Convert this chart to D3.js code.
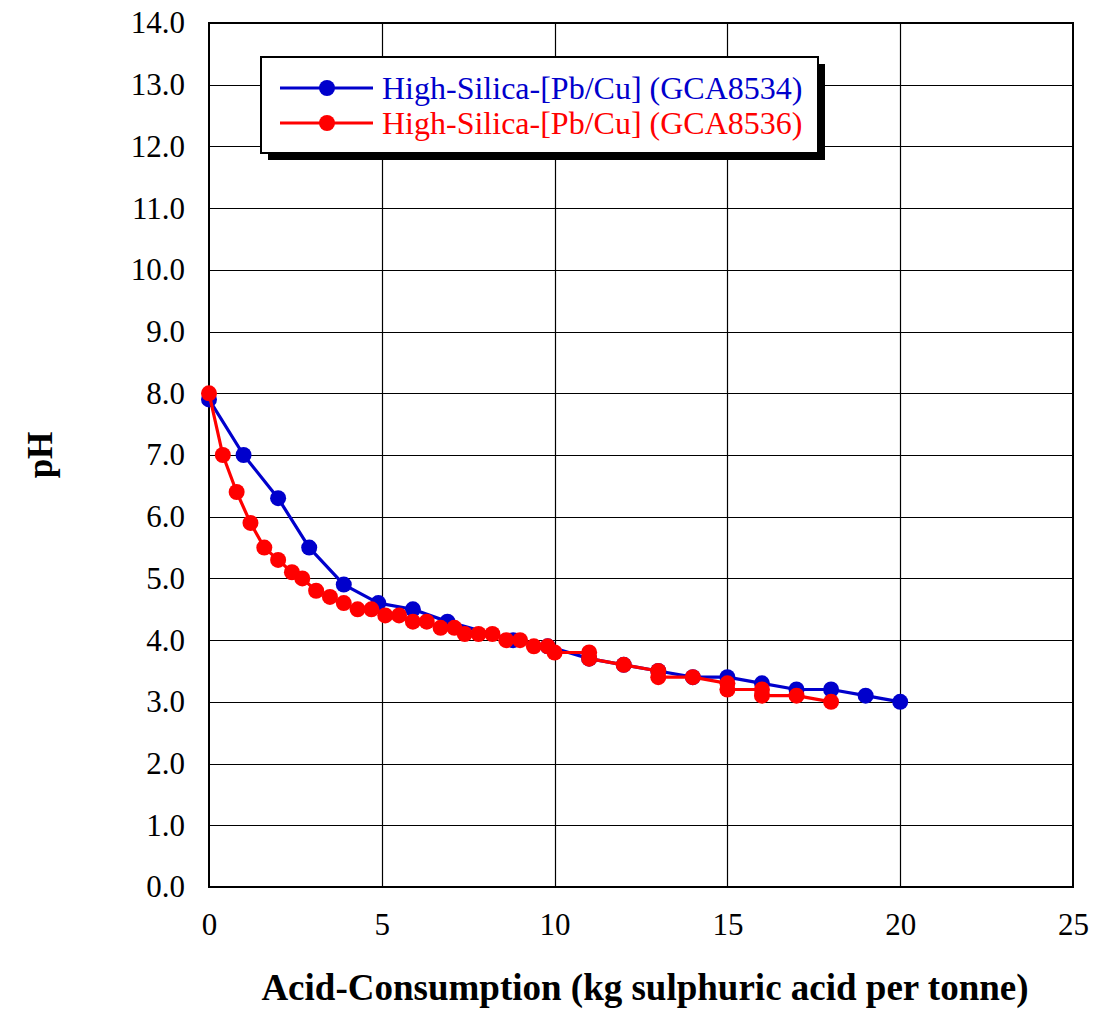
<!DOCTYPE html>
<html>
<head>
<meta charset="utf-8">
<script src="https://cdn.jsdelivr.net/npm/d3@7/dist/d3.min.js"></script>
<style>
  html, body { margin: 0; padding: 0; background: #fff; }
  svg { display: block; }
  text { font-family: "Liberation Serif", "Times New Roman", serif; }
</style>
</head>
<body>
<svg id="chart" width="1096" height="1012"></svg>
<script>
// ---- Data ----
const seriesNames = ["High-Silica-[Pb/Cu] (GCA8534)", "High-Silica-[Pb/Cu] (GCA8536)"];
const seriesColors = ["#0000cc", "#ff0000"];

const blueX = [0, 1, 2, 2.9, 3.9, 4.9, 5.9, 6.9, 8.8, 9.8, 11, 12, 13, 14, 15, 16, 17, 18, 19, 20];
const blueY = [7.9, 7.0, 6.3, 5.5, 4.9, 4.6, 4.5, 4.3, 4.0, 3.9, 3.7, 3.6, 3.5, 3.4, 3.4, 3.3, 3.2, 3.2, 3.1, 3.0];

const redX = [0, 0.4, 0.8, 1.2, 1.6, 2.0, 2.4, 2.7, 3.1, 3.5, 3.9, 4.3, 4.7, 5.1, 5.5, 5.9, 6.3, 6.7, 7.1, 7.4, 7.8, 8.2, 8.6, 9.0, 9.4, 9.8, 10.0, 11.0, 11.0, 12, 13, 13, 14, 15, 15, 16, 16, 17, 18];
const redY = [8.0, 7.0, 6.4, 5.9, 5.5, 5.3, 5.1, 5.0, 4.8, 4.7, 4.6, 4.5, 4.5, 4.4, 4.4, 4.3, 4.3, 4.2, 4.2, 4.1, 4.1, 4.1, 4.0, 4.0, 3.9, 3.9, 3.8, 3.8, 3.7, 3.6, 3.5, 3.4, 3.4, 3.3, 3.2, 3.2, 3.1, 3.1, 3.0];

const xTicks = [0, 5, 10, 15, 20, 25];
const yTicks = [0, 1, 2, 3, 4, 5, 6, 7, 8, 9, 10, 11, 12, 13, 14];
const xTitle = "Acid-Consumption (kg sulphuric acid per tonne)";
const yTitle = "pH";

// ---- Layout ----
const svg = d3.select("#chart");
const pL = 209, pR = 1073, pT = 23, pB = 887;

const x = d3.scaleLinear().domain([0, 25]).range([pL, pR]);
const y = d3.scaleLinear().domain([0, 14]).range([pB, pT]);

// Grid
const grid = svg.append("g");
grid.selectAll("line.h").data(yTicks.slice(1, -1)).join("line")
  .attr("x1", pL).attr("x2", pR)
  .attr("y1", d => Math.round(y(d)) + 0.5).attr("y2", d => Math.round(y(d)) + 0.5)
  .attr("stroke", "#000").attr("stroke-width", 1.2);
grid.selectAll("line.v").data(xTicks.slice(1, -1)).join("line")
  .attr("y1", pT).attr("y2", pB)
  .attr("x1", d => Math.round(x(d)) + 0.5).attr("x2", d => Math.round(x(d)) + 0.5)
  .attr("stroke", "#000").attr("stroke-width", 1.2);

// Frame
svg.append("rect").attr("x", pL).attr("y", pT)
  .attr("width", pR - pL).attr("height", pB - pT)
  .attr("fill", "none").attr("stroke", "#000").attr("stroke-width", 2);

// Axes (labels only)
const yAxis = d3.axisLeft(y).tickValues(yTicks).tickFormat(d3.format(".1f")).tickSize(0).tickPadding(24);
const gy = svg.append("g").attr("transform", `translate(${pL},0)`).call(yAxis);
gy.select(".domain").remove();
gy.selectAll("text").attr("font-size", 31).attr("fill", "#000")
  .style("font-family", "'Liberation Serif', serif");

const xAxis = d3.axisBottom(x).tickValues(xTicks).tickFormat(d3.format("d")).tickSize(0).tickPadding(26);
const gx = svg.append("g").attr("transform", `translate(0,${pB})`).call(xAxis);
gx.select(".domain").remove();
gx.selectAll("text").attr("font-size", 31).attr("fill", "#000")
  .style("font-family", "'Liberation Serif', serif");

// Titles
svg.append("text").attr("x", 645).attr("y", 1000)
  .attr("text-anchor", "middle").attr("font-size", 37).attr("font-weight", "bold")
  .text(xTitle);
svg.append("text").attr("transform", "translate(52,455) rotate(-90)")
  .attr("text-anchor", "middle").attr("font-size", 35).attr("font-weight", "bold")
  .text(yTitle);

// Series
const series = [
  { xs: blueX, ys: blueY },
  { xs: redX, ys: redY }
];
const line = d3.line().x(d => x(d[0])).y(d => y(d[1]));
series.forEach((s, i) => {
  const pts = s.xs.map((v, j) => [v, s.ys[j]]);
  const g = svg.append("g");
  g.append("path").datum(pts).attr("d", line)
    .attr("fill", "none").attr("stroke", seriesColors[i]).attr("stroke-width", 3.2)
    .attr("stroke-linejoin", "round");
  g.selectAll("circle").data(pts).join("circle")
    .attr("cx", d => x(d[0])).attr("cy", d => y(d[1])).attr("r", 8)
    .attr("fill", seriesColors[i]);
});

// Legend
const lg = svg.append("g");
const lx = 261, ly = 57, lw = 557, lh = 96;
lg.append("rect").attr("x", lx + 7).attr("y", ly + 7).attr("width", lw).attr("height", lh).attr("fill", "#000");
lg.append("rect").attr("x", lx).attr("y", ly).attr("width", lw).attr("height", lh)
  .attr("fill", "#fff").attr("stroke", "#000").attr("stroke-width", 2);
seriesNames.forEach((name, i) => {
  const yy = 88 + i * 35;
  lg.append("line").attr("x1", 280).attr("x2", 373).attr("y1", yy).attr("y2", yy)
    .attr("stroke", seriesColors[i]).attr("stroke-width", 3);
  lg.append("circle").attr("cx", 327).attr("cy", yy).attr("r", 8).attr("fill", seriesColors[i]);
  lg.append("text").attr("x", 382).attr("y", yy).attr("dy", "0.35em")
    .attr("font-size", 32).attr("fill", seriesColors[i]).text(name);
});
</script>
</body>
</html>
